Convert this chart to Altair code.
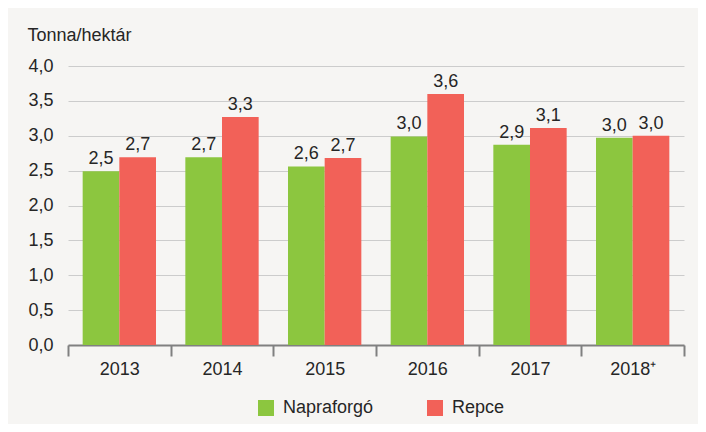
import altair as alt
import pandas as pd

years = ["2013", "2014", "2015", "2016", "2017", "2018⁺"]
napraforgo = [2.49, 2.69, 2.56, 2.99, 2.87, 2.97]
repce = [2.69, 3.27, 2.68, 3.60, 3.11, 3.00]
series = ["Napraforgó", "Repce"]
colors = ["#8CC63F", "#F26158"]
y_ticks = [0, 0.5, 1, 1.5, 2, 2.5, 3, 3.5, 4]

rows = []
for i, yr in enumerate(years):
    rows.append({"year": yr, "crop": series[0], "value": napraforgo[i]})
    rows.append({"year": yr, "crop": series[1], "value": repce[i]})
df = pd.DataFrame(rows)

FONT = "Liberation Sans, Arial"
FS = 18
TXT = "#262626"

base = alt.Chart(df).transform_calculate(
    label="replace(format(datum.value, '.1f'), '.', ',')"
)

x = alt.X("year:N", sort=years, title=None,
          scale=alt.Scale(paddingInner=0, paddingOuter=0),
          axis=alt.Axis(tickBand="extent", labelAngle=0, labelFont=FONT, labelFontSize=FS,
                        labelColor=TXT, domainColor="#808080", domainWidth=2,
                        tickColor="#808080", tickWidth=2, tickSize=11, labelPadding=4,
                        grid=False))
xo = alt.XOffset("crop:N", sort=series,
                 scale=alt.Scale(paddingOuter=0.4, paddingInner=0))
y = alt.Y("value:Q", title="Tonna/hektár",
          scale=alt.Scale(domain=[0, 4], nice=False),
          axis=alt.Axis(values=y_ticks, labelOverlap=False,
                        labelExpr="replace(format(datum.value, '.1f'), '.', ',')",
                        labelFont=FONT, labelFontSize=FS, labelColor=TXT,
                        ticks=False, domain=False, labelPadding=15,
                        gridColor="#CCCCCC", gridWidth=1,
                        titleAngle=0, titleFont=FONT, titleFontSize=FS,
                        titleFontWeight="normal", titleColor=TXT,
                        titleAlign="left", titleBaseline="alphabetic",
                        titleX=-41, titleY=-26))

bars = base.mark_bar(stroke=None).encode(
    x=x, xOffset=xo, y=y,
    color=alt.Color("crop:N", sort=series,
                    scale=alt.Scale(domain=series, range=colors),
                    legend=alt.Legend(title=None, orient="none", direction="horizontal",
                                      legendX=189, legendY=333,
                                      symbolType="square", symbolSize=256,
                                      symbolStrokeWidth=0, symbolOpacity=1,
                                      labelFont=FONT, labelFontSize=FS, labelColor=TXT,
                                      labelOffset=8, columnPadding=52, padding=0)),
)

labels = base.mark_text(baseline="alphabetic", dy=-7, font=FONT, fontSize=FS,
                        color=TXT).encode(
    x=x, xOffset=xo, y=y, text="label:N"
)

chart = (bars + labels).properties(
    width=616, height=279,
    background="#F6F5F3",
    autosize=alt.AutoSizeParams(type="none"),
    padding={"left": 60, "top": 58, "right": 14, "bottom": 79},
).configure_view(stroke=None)

chart.save("out.html", embed_options={"renderer": "svg", "actions": False})
